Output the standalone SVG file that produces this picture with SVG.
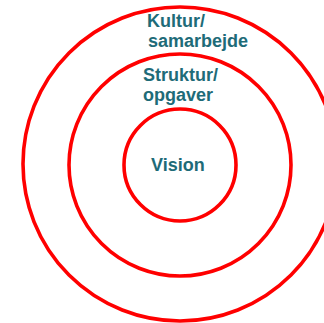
<svg xmlns="http://www.w3.org/2000/svg" width="324" height="323" viewBox="0 0 324 323">
<style>
.ring{fill:none;stroke:#ff0000;stroke-width:3.6}
.lbl{font-family:"Liberation Sans",Arial,sans-serif;font-weight:bold;font-size:18px;fill:#1e6b78}
</style>
<rect width="324" height="323" fill="#ffffff"/>
<g id="outer">
<circle class="ring" cx="180" cy="164" r="157"/>
<text class="lbl" x="147" y="26.5">Kultur/</text>
<text class="lbl" x="148" y="46.5">samarbejde</text>
</g>
<g id="middle">
<circle class="ring" cx="180" cy="165" r="111"/>
<text class="lbl" x="143" y="81">Struktur/</text>
<text class="lbl" x="143" y="101">opgaver</text>
</g>
<g id="inner">
<circle class="ring" cx="180" cy="165" r="56"/>
<text class="lbl" x="151" y="171">Vision</text>
</g>
<g id="connectors"/>
</svg>
